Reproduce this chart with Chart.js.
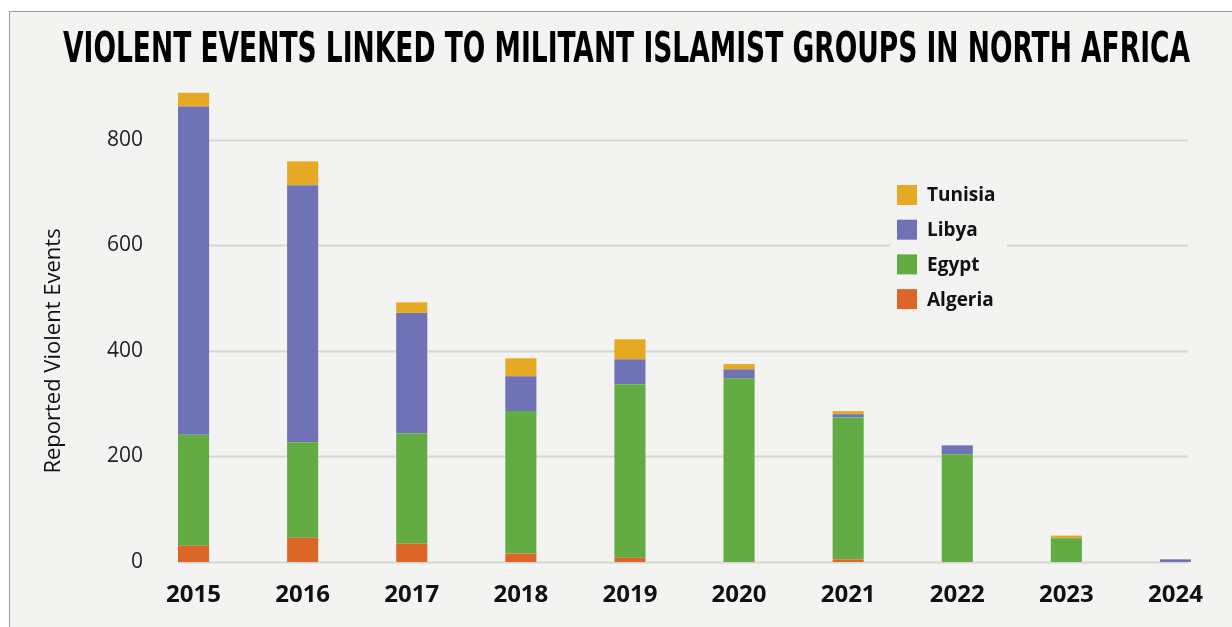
<!DOCTYPE html>
<html>
<head>
<meta charset="utf-8">
<title>Violent events linked to militant Islamist groups in North Africa</title>
<script src="https://cdn.jsdelivr.net/npm/chart.js@4.4.1/dist/chart.umd.min.js"></script>
<style>
  html, body { margin: 0; padding: 0; background: #fff; }
  body { width: 1232px; height: 627px; position: relative; overflow: hidden; }
  .panel {
    position: absolute; left: 9px; top: 11px; right: 0; bottom: 0;
    background: #f3f3f1;
    border-top: 1.5px solid #9d9d9d;
    border-left: 1.5px solid #9d9d9d;
  }
  #chart { position: absolute; left: 0; top: 0; }
</style>
</head>
<body>
<div class="panel"></div>
<canvas id="chart" width="1232" height="627"></canvas>
<script>
/* globals Chart:false */

const years = ['2015', '2016', '2017', '2018', '2019', '2020', '2021', '2022', '2023', '2024']

// reported violent events per country and year
const algeria = [31, 46, 35, 16, 8, 0, 5, 0, 0, 0]
const egypt = [210, 181, 209, 270, 329, 348, 269, 204, 45, 0]
const libya = [622, 487, 228, 66, 47, 17, 6, 17, 0, 5]
const tunisia = [26, 45, 20, 34, 38, 10, 6, 0, 5, 0]

const yTicks = [0, 200, 400, 600, 800]

const titleText = 'VIOLENT EVENTS LINKED TO MILITANT ISLAMIST GROUPS IN NORTH AFRICA'
const yTitleText = 'Reported Violent Events'

const colors = {
  Algeria: '#dc6627',
  Egypt: '#63ac44',
  Libya: '#6f72b5',
  Tunisia: '#e5a924'
}
const panelColor = '#f3f3f1'
const gridColor = '#d7d7d4'

// horizontal grid lines run from the first bar to the last one,
// then the legend is painted on top of them with the panel colour
const gridAndLegend = {
  id: 'gridAndLegend',
  beforeDatasetsDraw (chart) {
    const ctx = chart.ctx
    const y = chart.scales.y
    const bars = chart.getDatasetMeta(0).data
    const first = bars[0]
    const last = bars[bars.length - 1]
    const x0 = first.x - first.width / 2
    const x1 = last.x + last.width / 2 - 3

    ctx.save()
    ctx.strokeStyle = gridColor
    ctx.lineWidth = 2
    yTicks.forEach(v => {
      const py = Math.round(y.getPixelForValue(v)) + 0.5
      ctx.beginPath()
      ctx.moveTo(x0, py)
      ctx.lineTo(x1, py)
      ctx.stroke()
    })

    // legend, top item is the top of the stack
    ctx.fillStyle = panelColor
    ctx.fillRect(890, 178, 117, 138)
    const items = chart.data.datasets.slice().reverse()
    ctx.font = 'bold 19px "Open Sans", sans-serif'
    ctx.textBaseline = 'middle'
    ctx.textAlign = 'left'
    items.forEach((ds, i) => {
      const top = 185 + i * 34.7
      ctx.fillStyle = ds.backgroundColor
      ctx.fillRect(897, top, 20, 20)
      ctx.fillStyle = '#111'
      ctx.fillText(ds.label, 927, top + 11)
    })
    ctx.restore()
  },
  afterDraw (chart) {
    const ctx = chart.ctx
    ctx.save()

    // condensed bold heading squeezed to the panel width
    ctx.font = 'bold 43px "Liberation Sans Narrow", "DejaVu Sans Condensed", "Liberation Sans", sans-serif'
    ctx.fillStyle = '#000'
    ctx.textBaseline = 'alphabetic'
    ctx.textAlign = 'left'
    const w = ctx.measureText(titleText).width
    const target = 1127
    ctx.translate(63, 62)
    ctx.scale(target / w, 1)
    ctx.fillText(titleText, 0, 0)
    ctx.restore()

    // rotated y axis title
    ctx.save()
    ctx.font = '22px "Open Sans", sans-serif'
    ctx.fillStyle = '#111'
    ctx.textAlign = 'center'
    ctx.textBaseline = 'middle'
    ctx.translate(54, 351)
    ctx.rotate(-Math.PI / 2)
    ctx.fillText(yTitleText, 0, 0)
    ctx.restore()
  }
}

function series (label, data) {
  return {
    label: label,
    data: data,
    backgroundColor: colors[label],
    borderWidth: 0,
    barPercentage: 0.285,
    categoryPercentage: 1
  }
}

new Chart(document.getElementById('chart'), {
  type: 'bar',
  data: {
    labels: years,
    datasets: [
      series('Algeria', algeria),
      series('Egypt', egypt),
      series('Libya', libya),
      series('Tunisia', tunisia)
    ]
  },
  options: {
    responsive: false,
    animation: false,
    devicePixelRatio: 1,
    layout: { padding: { top: 87, right: 2, bottom: 0, left: 0 } },
    plugins: {
      legend: { display: false },
      title: { display: false },
      tooltip: { enabled: false }
    },
    scales: {
      x: {
        stacked: true,
        grid: { display: false, drawTicks: false },
        border: { display: false },
        ticks: {
          color: '#111',
          padding: 19,
          maxRotation: 0,
          font: { family: '"Open Sans", sans-serif', size: 24, weight: 'bold' }
        },
        afterFit (scale) { scale.height = 65 }
      },
      y: {
        stacked: true,
        min: 0,
        max: 900,
        grid: { display: false, drawTicks: false },
        border: { display: false },
        ticks: {
          stepSize: 200,
          // mirrored + far so the labels right-align a few px past the axis edge
          mirror: true,
          crossAlign: 'far',
          padding: -32,
          color: '#222',
          font: { family: '"Open Sans", sans-serif', size: 21 }
        },
        afterBuildTicks (scale) {
          scale.ticks = yTicks.map(v => ({ value: v }))
        },
        afterFit (scale) { scale.width = 139 }
      }
    }
  },
  plugins: [gridAndLegend]
})
</script>
</body>
</html>
